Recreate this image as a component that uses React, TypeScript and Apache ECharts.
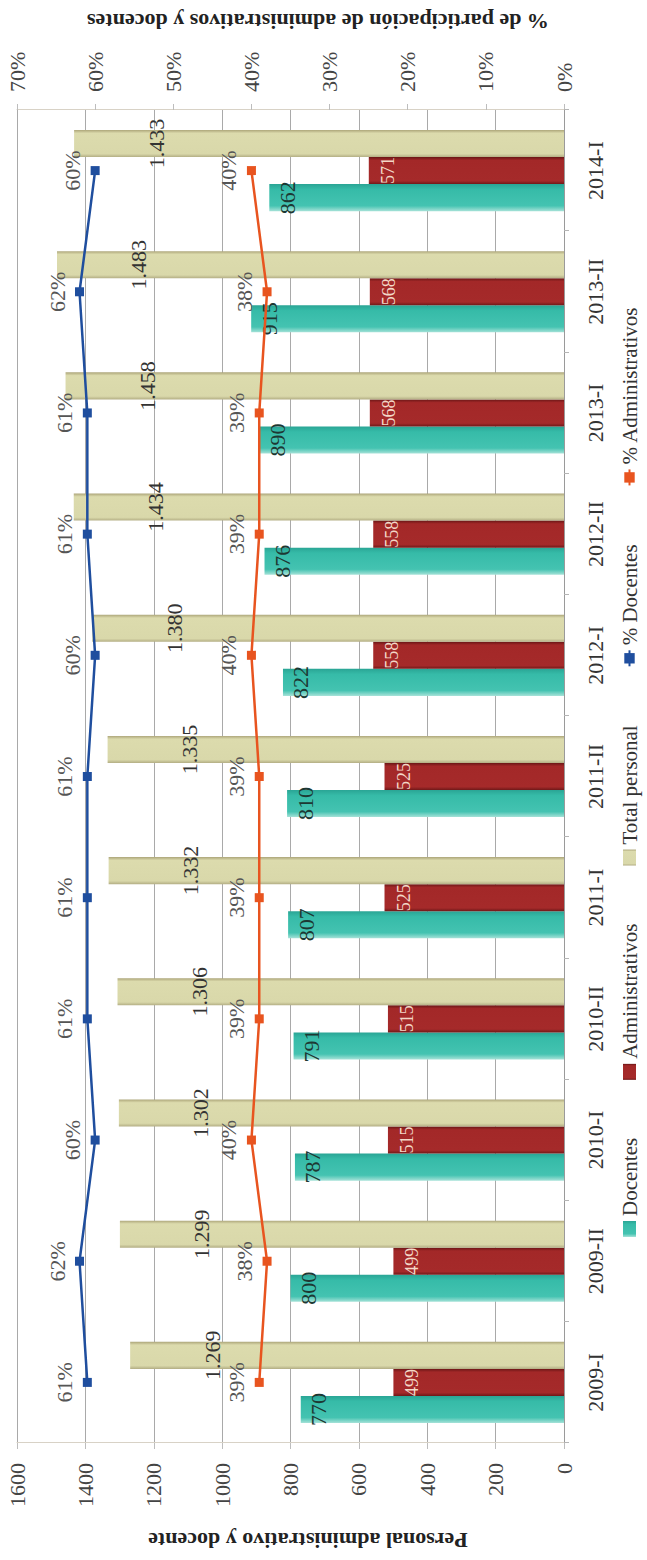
import React, { useEffect, useRef } from "react";
import * as echarts from "echarts";

// ---- data ----
const categories = ["2009-I", "2009-II", "2010-I", "2010-II", "2011-I", "2011-II", "2012-I", "2012-II", "2013-I", "2013-II", "2014-I"];
const docentes = [770, 800, 787, 791, 807, 810, 822, 876, 890, 915, 862];
const administrativos = [499, 499, 515, 515, 525, 525, 558, 558, 568, 568, 571];
const totalPersonal = [1269, 1299, 1302, 1306, 1332, 1335, 1380, 1434, 1458, 1483, 1433];
const pctDocentes = [61, 62, 60, 61, 61, 61, 60, 61, 61, 62, 60];
const pctAdministrativos = [39, 38, 40, 39, 39, 39, 40, 39, 39, 38, 40];
const countTicks = [0, 200, 400, 600, 800, 1000, 1200, 1400, 1600];
const pctTicks = [0, 10, 20, 30, 40, 50, 60, 70];

const seriesNames = ["Docentes", "Administrativos", "Total personal", "% Docentes", "% Administrativos"];
const leftTitle = "Personal administrativo y docente";
const rightTitle = "% de participación de administrativos y docentes";

// chart is drawn in landscape and rotated on the page
const W = 1560;
const H = 647;
const FONT = "'Liberation Serif', 'Times New Roman', serif";

const thousands = (v: number) => String(v).replace(/\B(?=(\d{3})+(?!\d))/g, ".");

const grad = (stops: [number, string][]) =>
  new echarts.graphic.LinearGradient(0, 0, 1, 0, stops.map(([offset, color]) => ({ offset, color })));

export default function App() {
  const ref = useRef<HTMLDivElement>(null);

  useEffect(() => {
    if (!ref.current) return;
    const chart = echarts.init(ref.current, null, { renderer: "svg", width: W, height: H });
    const barCommon = {
      type: "bar" as const,
      yAxisIndex: 0,
      barGap: "0%",
      barCategoryGap: "33%",
    };
    chart.setOption({
      animation: false,
      backgroundColor: "#ffffff",
      textStyle: { fontFamily: FONT },
      grid: { left: 117, right: 110, top: 17, bottom: 83, containLabel: false },
      legend: {
        data: [
          { name: seriesNames[0], icon: "rect" },
          { name: seriesNames[1], icon: "rect" },
          { name: seriesNames[2], icon: "rect" },
          { name: seriesNames[3] },
          { name: seriesNames[4] },
        ],
        left: 318,
        top: 614,
        itemGap: 58,
        itemWidth: 16,
        itemHeight: 13,
        textStyle: { fontFamily: FONT, fontSize: 21, color: "#333" },
      },
      xAxis: {
        type: "category",
        data: categories,
        axisLine: { lineStyle: { color: "#9a9a9a" } },
        axisTick: { show: true, length: 5, lineStyle: { color: "#b5b5b5" } },
        axisLabel: { fontFamily: FONT, fontSize: 22, color: "#333", margin: 20 },
      },
      yAxis: [
        {
          type: "value",
          position: "left",
          min: countTicks[0],
          max: countTicks[countTicks.length - 1],
          interval: countTicks[1] - countTicks[0],
          axisLine: { show: true, lineStyle: { color: "#d8d2c6" } },
          axisTick: { show: true, length: 6, lineStyle: { color: "#bdbdbd" } },
          axisLabel: {
            fontFamily: FONT,
            fontSize: 22,
            color: "#444",
            margin: 20,
            formatter: (v: number) => String(v),
          },
          splitLine: { show: true, lineStyle: { color: "#a9a9a9", width: 1 } },
        },
        {
          type: "value",
          position: "right",
          min: pctTicks[0],
          max: pctTicks[pctTicks.length - 1],
          interval: pctTicks[1] - pctTicks[0],
          axisLine: { show: true, lineStyle: { color: "#d8d2c6" } },
          axisTick: { show: true, length: 6, lineStyle: { color: "#bdbdbd" } },
          axisLabel: { fontFamily: FONT, fontSize: 22, color: "#444", margin: 18, formatter: "{value}%" },
          splitLine: { show: false },
        },
      ],
      graphic: [
        {
          type: "text",
          x: 20,
          y: 308,
          rotation: Math.PI / 2,
          style: {
            text: leftTitle,
            fontFamily: FONT,
            fontSize: 22,
            fontWeight: "bold",
            fill: "#222",
            align: "center",
            verticalAlign: "middle",
          },
        },
        {
          type: "text",
          x: 1539,
          y: 318,
          rotation: Math.PI / 2,
          style: {
            text: rightTitle,
            fontFamily: FONT,
            fontSize: 22,
            fontWeight: "bold",
            fill: "#222",
            align: "center",
            verticalAlign: "middle",
          },
        },
      ],
      series: [
        {
          ...barCommon,
          name: seriesNames[0],
          data: docentes,
          itemStyle: {
            color: grad([
              [0, "#a6e2d8"],
              [0.2, "#44c3b1"],
              [0.8, "#36bba8"],
              [1, "#2aa595"],
            ]),
          },
          label: {
            show: true,
            position: "insideTop",
            distance: 7,
            fontFamily: FONT,
            fontSize: 22,
            color: "#1d3833",
          },
        },
        {
          ...barCommon,
          name: seriesNames[1],
          data: administrativos,
          itemStyle: {
            color: grad([
              [0, "#6f1818"],
              [0.12, "#a52a2a"],
              [0.88, "#a32828"],
              [1, "#6a1616"],
            ]),
          },
          label: {
            show: true,
            position: "insideTop",
            distance: 10,
            fontFamily: FONT,
            fontSize: 18,
            color: "#f3d8c8",
          },
        },
        {
          ...barCommon,
          name: seriesNames[2],
          data: totalPersonal,
          itemStyle: {
            color: grad([
              [0, "#b3ae84"],
              [0.12, "#d9d8aa"],
              [0.88, "#dcdbad"],
              [1, "#ada67a"],
            ]),
          },
          label: {
            show: true,
            position: "insideTop",
            distance: 71,
            fontFamily: FONT,
            fontSize: 22,
            color: "#333",
            formatter: (p: any) => thousands(p.value),
          },
        },
        {
          type: "line",
          name: seriesNames[3],
          yAxisIndex: 1,
          data: pctDocentes,
          symbol: "rect",
          symbolSize: 9,
          itemStyle: { color: "#1f4e9e" },
          lineStyle: { color: "#1f4e9e", width: 2.5 },
          label: {
            show: true,
            position: "top",
            distance: 7,
            fontFamily: FONT,
            fontSize: 22,
            color: "#555",
            formatter: "{c}%",
          },
          z: 5,
        },
        {
          type: "line",
          name: seriesNames[4],
          yAxisIndex: 1,
          data: pctAdministrativos,
          symbol: "rect",
          symbolSize: 9,
          itemStyle: { color: "#e8541f" },
          lineStyle: { color: "#e8541f", width: 2.5 },
          label: {
            show: true,
            position: "top",
            distance: 7,
            fontFamily: FONT,
            fontSize: 22,
            color: "#555",
            formatter: "{c}%",
          },
          z: 5,
        },
      ],
    });
    return () => chart.dispose();
  }, []);

  return (
    <div
      style={{
        position: "absolute",
        left: 0,
        top: 0,
        width: H,
        height: W,
        overflow: "hidden",
        background: "#fff",
      }}
    >
      <div
        ref={ref}
        style={{
          position: "absolute",
          left: 0,
          top: 0,
          width: W,
          height: H,
          transformOrigin: "0 0",
          transform: `translateY(${W}px) rotate(-90deg)`,
        }}
      />
    </div>
  );
}
